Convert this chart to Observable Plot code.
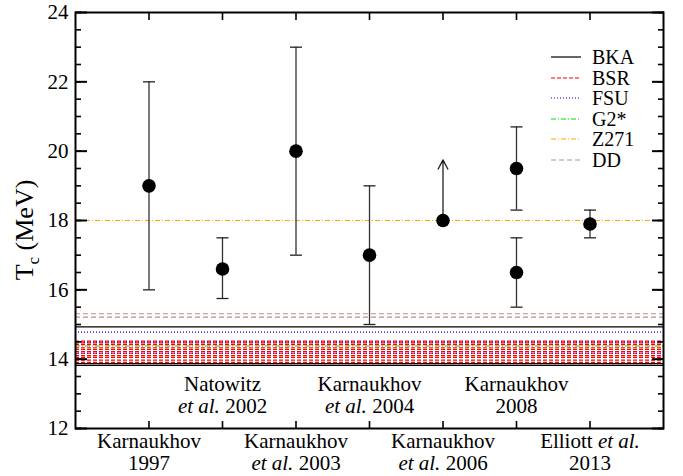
<!DOCTYPE html>
<html>
<head>
<meta charset="utf-8">
<script src="https://cdn.jsdelivr.net/npm/d3@7"></script>
<script src="https://cdn.jsdelivr.net/npm/@observablehq/plot@0.6"></script>
<style>
  body { margin: 0; background: white; }
  #wrap { position: relative; width: 683px; height: 476px; font-family: "Liberation Serif", serif; }
  #legend { position: absolute; left: 550px; top: 47px; font-size: 20px; }
  .row { display: flex; align-items: center; height: 20.5px; }
  .row span { display: inline-block; margin-left: 10px; height: 20px; line-height: 20px; overflow: visible; }
  #ylab { position: absolute; left: 25px; top: 230px; transform: translate(-50%, -50%) rotate(-90deg); white-space: nowrap; font-size: 26px; line-height: 26px; }
  #ylab sub { font-size: 17px; vertical-align: -6px; line-height: 0; }
</style>
</head>
<body>
<div id="wrap">
  <div id="chart"></div>
  <div id="legend"></div>
  <div id="ylab">T<sub>c</sub> (MeV)</div>
</div>
<script>
// ---- data ----
const xIdx = [1, 2, 3, 4, 5, 6, 7];
const labelTop = ["Karnaukhov", "Natowitz", "Karnaukhov", "Karnaukhov", "Karnaukhov", "Karnaukhov", "Elliott et al."];
const labelBottom = ["1997", "et al. 2002", "et al. 2003", "et al. 2004", "et al. 2006", "2008", "2013"];

const pointX = [1, 2, 3, 4, 5, 6, 6, 7];
const pointY = [19, 16.6, 20, 17, 18, 19.5, 16.5, 17.9];
const errLow = [16, 15.75, 17, 15, null, 18.3, 15.5, 17.5];
const errHigh = [22, 17.5, 23, 19, null, 20.7, 17.5, 18.3];

const arrowX = [5];
const arrowFrom = [18];
const arrowTo = [19.75];

const bkaY = [14.93, 13.87, 13.82];
const bsrY = [14.52, 14.47, 14.42, 14.33, 14.28, 14.22, 14.17, 14.10, 14.05, 13.97, 13.91];
const fsuY = [14.78, 14.49, 14.17];
const g2Y = [14.38];
const z271Y = [18.0];
const ddY = [15.31, 15.21];

const yMajor = [12, 14, 16, 18, 20, 22, 24];
const yMinor = d3.range(12, 24.01, 0.5);

const series = [
  {name: "BKA", ys: bkaY, stroke: "#000000", dash: null, width: 1.2},
  {name: "BSR", ys: bsrY, stroke: "#ff0000", dash: "4,2", width: 1.2},
  {name: "FSU", ys: fsuY, stroke: "#0000ff", dash: "1,2", width: 1.2},
  {name: "G2*", ys: g2Y, stroke: "#00dd00", dash: "5,2,1,2", width: 1.2},
  {name: "Z271", ys: z271Y, stroke: "#ffa500", dash: "5,2,1,2", width: 1.2},
  {name: "DD", ys: ddY, stroke: "#bc8f8f", dash: "5,3", width: 1.2}
];

// ---- derived tables ----
const points = pointX.map((x, i) => ({x, y: pointY[i], lo: errLow[i], hi: errHigh[i]}));
const bars = points.filter(d => d.lo != null);
const caps = bars.flatMap(d => [{x: d.x, y: d.lo}, {x: d.x, y: d.hi}]);
const arrows = arrowX.map((x, i) => ({x, y1: arrowFrom[i], y2: arrowTo[i]}));
const labels = xIdx.map((x, i) => ({x, l1: labelTop[i], l2: labelBottom[i], below: i % 2 === 0}));

const capSymbol = {draw(ctx, size) { const r = Math.sqrt(size / Math.PI); ctx.moveTo(-r, 0); ctx.lineTo(r, 0); }};
const blank = () => "";

const lineMarks = series.map(s => Plot.ruleY(s.ys, {y: d => d, stroke: s.stroke, strokeWidth: s.width, strokeDasharray: s.dash}));

const chart = Plot.plot({
  width: 683,
  height: 476,
  marginLeft: 75,
  marginRight: 20,
  marginTop: 12,
  marginBottom: 48,
  style: {fontFamily: "Liberation Serif, serif", fontSize: "21px", color: "black", background: "white"},
  x: {domain: [0, 8], axis: null},
  y: {domain: [12, 24], axis: null},
  marks: [
    ...lineMarks,
    Plot.ruleX(bars, {x: "x", y1: "lo", y2: "hi", stroke: "#333", strokeWidth: 1.3}),
    Plot.dot(caps, {x: "x", y: "y", r: 6, symbol: capSymbol, stroke: "#222", strokeWidth: 1.3, fill: "none"}),
    Plot.arrow(arrows, {x1: "x", x2: "x", y1: "y1", y2: "y2", stroke: "#222", strokeWidth: 1.3, headLength: 12, headAngle: 55}),
    Plot.dot(points, {x: "x", y: "y", r: 6.8, fill: "black"}),
    Plot.frame({stroke: "black", strokeWidth: 2}),
    Plot.axisY({anchor: "left", ticks: yMajor, tickSize: 0, tickPadding: 7, fontSize: 21, label: null}),
    Plot.axisY({anchor: "left", ticks: yMajor, tickSize: -12, tickFormat: blank, label: null, strokeWidth: 2}),
    Plot.axisY({anchor: "left", ticks: yMinor, tickSize: -6, tickFormat: blank, label: null, strokeWidth: 1.6}),
    Plot.axisY({anchor: "right", ticks: yMajor, tickSize: -12, tickFormat: blank, label: null, strokeWidth: 2}),
    Plot.axisY({anchor: "right", ticks: yMinor, tickSize: -6, tickFormat: blank, label: null, strokeWidth: 1.6}),
    Plot.axisX({anchor: "bottom", ticks: xIdx, tickSize: -7, tickFormat: blank, label: null, strokeWidth: 1.6}),
    Plot.axisX({anchor: "top", ticks: xIdx, tickSize: -7, tickFormat: blank, label: null, strokeWidth: 1.6}),
    Plot.text(labels.filter(d => d.below), {x: "x", text: "l1", frameAnchor: "bottom", dy: 19, fontSize: 21}),
    Plot.text(labels.filter(d => d.below), {x: "x", text: "l2", frameAnchor: "bottom", dy: 41, fontSize: 21}),
    Plot.text(labels.filter(d => !d.below), {x: "x", text: "l1", frameAnchor: "bottom", dy: -38, fontSize: 21}),
    Plot.text(labels.filter(d => !d.below), {x: "x", text: "l2", frameAnchor: "bottom", dy: -16, fontSize: 21})
  ]
});

// italicise "et al."
d3.select(chart).selectAll("text").each(function() {
  const t = this.textContent;
  if (!t.includes("et al.")) return;
  const el = d3.select(this);
  el.text(null);
  t.split(/(et al\.)/).filter(p => p.length).forEach(p => {
    el.append("tspan").attr("font-style", p === "et al." ? "italic" : null).text(p);
  });
});

document.getElementById("chart").appendChild(chart);

// legend
const leg = d3.select("#legend");
series.forEach(s => {
  const row = leg.append("div").attr("class", "row");
  const sv = row.append("svg").attr("width", 32).attr("height", 6);
  sv.append("line").attr("x1", 1).attr("x2", 31).attr("y1", 3).attr("y2", 3)
    .attr("stroke", s.stroke).attr("stroke-width", s.width).attr("stroke-dasharray", s.dash);
  row.append("span").text(s.name);
});
</script>
</body>
</html>
